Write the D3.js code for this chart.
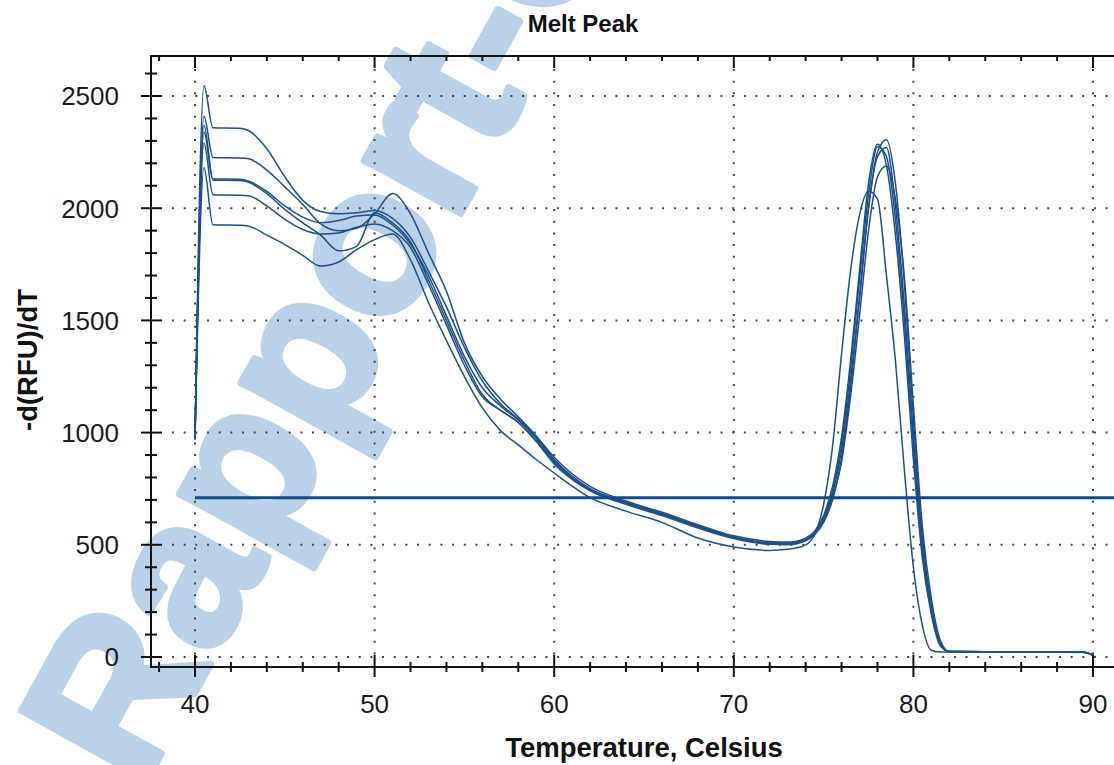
<!DOCTYPE html>
<html>
<head>
<meta charset="utf-8">
<script src="https://cdn.jsdelivr.net/npm/d3@7"></script>
<style>
  body { margin: 0; background: #fff; }
  svg { display: block; }
  text { font-family: 'Liberation Sans', Arial, sans-serif; }
</style>
</head>
<body>
<div id="chart"></div>
<script>
// temperature grid (Celsius) shared by every well
const temps = [40, 40.5, 41, 42.5, 43, 44, 45, 46, 47, 48, 49, 50, 51, 52, 53, 54, 55, 56, 57, 58, 59, 60,
  62, 64, 66, 68, 70, 72, 73, 74, 74.5, 75, 75.5, 76, 76.5, 77, 77.5, 78, 78.5, 79, 79.5, 80, 80.5, 81, 81.5, 82,
  84, 86, 88, 89.5, 90]

// -d(RFU)/dT per well
const well1 = [970, 2546, 2358, 2356, 2345, 2265, 2140, 2035, 1985, 1975, 1980, 1990, 1955, 1870, 1720, 1560, 1380, 1230, 1130, 1060, 980, 880,
  750, 690, 640, 585, 535, 510, 508, 525, 555, 620, 730, 920, 1230, 1600, 2000, 2250, 2305, 2110, 1660, 1060, 530, 230, 60, 24,
  23, 22, 22, 21, 8]
const well2 = [970, 2410, 2226, 2224, 2220, 2170, 2095, 2017, 1930, 1900, 1910, 1975, 2065, 1975, 1800, 1630, 1400, 1250, 1150, 1070, 985, 890,
  760, 695, 645, 590, 540, 515, 512, 530, 560, 630, 760, 980, 1320, 1720, 2110, 2285, 2190, 1880, 1430, 880, 440, 190, 50, 24,
  23, 22, 22, 21, 8]
const well3 = [970, 2340, 2125, 2123, 2115, 2065, 1995, 1935, 1880, 1810, 1830, 1980, 1935, 1850, 1680, 1500, 1320, 1170, 1100, 1045, 965, 868,
  745, 685, 635, 580, 530, 505, 502, 520, 548, 610, 710, 870, 1160, 1520, 1900, 2140, 2188, 2040, 1690, 1120, 580, 260, 75, 24,
  23, 22, 22, 21, 8]
const well4 = [970, 2290, 2060, 2058, 2055, 2010, 1950, 1905, 1885, 1890, 1915, 1930, 1900, 1825, 1660, 1480, 1300, 1160, 1100, 1045, 960, 860,
  740, 680, 630, 575, 528, 502, 500, 518, 545, 600, 700, 890, 1200, 1600, 2000, 2230, 2270, 2010, 1560, 990, 490, 215, 58, 24,
  23, 22, 22, 21, 8]
const well5 = [970, 2180, 1926, 1924, 1920, 1880, 1838, 1790, 1742, 1760, 1815, 1860, 1885, 1770, 1580, 1410, 1250, 1110, 1010, 945, 880, 820,
  710, 650, 600, 530, 490, 475, 480, 500, 545, 680, 940, 1350, 1720, 1970, 2075, 2040, 1700, 1320, 830, 400, 140, 30, 22, 22,
  22, 21, 21, 20, 8]
const well6 = [970, 2370, 2131, 2129, 2120, 2075, 2010, 1960, 1935, 1945, 1965, 1970, 1925, 1840, 1700, 1520, 1340, 1200, 1120, 1055, 975, 875,
  748, 688, 638, 582, 532, 507, 505, 522, 552, 620, 740, 950, 1280, 1680, 2060, 2275, 2230, 1950, 1500, 940, 470, 200, 55, 24,
  23, 22, 22, 21, 8]
const wells = [well1, well2, well3, well4, well5, well6]

const threshold = 710
const xTicks = [40, 50, 60, 70, 80, 90]
const yTicks = [0, 500, 1000, 1500, 2000, 2500]

const width = 1114
const height = 765
const frame = { left: 151, top: 56, bottom: 667, right: 1114 }

const svg = d3
  .select('#chart')
  .append('svg')
  .attr('width', width)
  .attr('height', height)

const xScale = d3.scaleLinear().domain([40, 90]).range([195, 1093])
const yScale = d3.scaleLinear().domain([0, 2500]).range([657, 96])

// watermark underneath everything (runs off the page like the original)
svg
  .append('text')
  .attr('transform', 'translate(140,792) rotate(-61)')
  .attr('font-size', 208)
  .attr('font-weight', 'bold')
  .attr('fill', '#bad1ea')
  .attr('stroke', '#bad1ea')
  .attr('stroke-width', 7)
  .attr('stroke-linejoin', 'round')
  .text('Rapport-Gratuit')

// dotted grid
svg
  .selectAll('.vgrid')
  .data(xTicks)
  .enter()
  .append('line')
  .attr('class', 'vgrid')
  .attr('x1', d => xScale(d))
  .attr('x2', d => xScale(d))
  .attr('y1', 69)
  .attr('y2', yScale(0))
  .attr('stroke', '#444')
  .attr('stroke-width', 2)
  .attr('stroke-dasharray', '2 9.67')

svg
  .selectAll('.hgrid')
  .data(yTicks)
  .enter()
  .append('line')
  .attr('class', 'hgrid')
  .attr('x1', 172)
  .attr('x2', frame.right)
  .attr('y1', d => yScale(d))
  .attr('y2', d => yScale(d))
  .attr('stroke', '#444')
  .attr('stroke-width', 2)
  .attr('stroke-dasharray', '2 9.67')

// melt curves
const line = d3
  .line()
  .x((d, i) => xScale(temps[i]))
  .y(d => yScale(d))
  .curve(d3.curveMonotoneX)

svg
  .selectAll('.well')
  .data(wells)
  .enter()
  .append('path')
  .attr('class', 'well')
  .attr('d', line)
  .attr('fill', 'none')
  .attr('stroke', '#1c4f8c')
  .attr('stroke-width', 1.5)

// threshold line
svg
  .append('line')
  .attr('x1', xScale(40))
  .attr('x2', frame.right)
  .attr('y1', yScale(threshold))
  .attr('y2', yScale(threshold))
  .attr('stroke', '#0f4a8a')
  .attr('stroke-width', 3)

// frame
svg
  .append('path')
  .attr('d', `M${frame.right},${frame.top}H${frame.left}V${frame.bottom}H${frame.right}`)
  .attr('fill', 'none')
  .attr('stroke', '#111')
  .attr('stroke-width', 2)

// x ticks (bottom and top)
const xMinor = d3.range(38, 92, 2).filter(d => d % 10 !== 0)
svg
  .selectAll('.xmajor')
  .data(xTicks)
  .enter()
  .append('line')
  .attr('x1', d => xScale(d))
  .attr('x2', d => xScale(d))
  .attr('y1', frame.bottom - 12)
  .attr('y2', frame.bottom + 10)
  .attr('stroke', '#111')
  .attr('stroke-width', 2)
svg
  .selectAll('.xminor')
  .data(xMinor)
  .enter()
  .append('line')
  .attr('x1', d => xScale(d))
  .attr('x2', d => xScale(d))
  .attr('y1', frame.bottom - 5)
  .attr('y2', frame.bottom + 5)
  .attr('stroke', '#111')
  .attr('stroke-width', 2)
svg
  .selectAll('.xtopmajor')
  .data(xTicks)
  .enter()
  .append('line')
  .attr('x1', d => xScale(d))
  .attr('x2', d => xScale(d))
  .attr('y1', frame.top)
  .attr('y2', frame.top + 12)
  .attr('stroke', '#111')
  .attr('stroke-width', 2)
svg
  .selectAll('.xtopminor')
  .data(xMinor)
  .enter()
  .append('line')
  .attr('x1', d => xScale(d))
  .attr('x2', d => xScale(d))
  .attr('y1', frame.top)
  .attr('y2', frame.top + 5)
  .attr('stroke', '#111')
  .attr('stroke-width', 2)

// y ticks
const yMinor = d3.range(0, 2700, 100).filter(d => d % 500 !== 0)
svg
  .selectAll('.ymajor')
  .data(yTicks)
  .enter()
  .append('line')
  .attr('x1', frame.left - 10)
  .attr('x2', frame.left + 11)
  .attr('y1', d => yScale(d))
  .attr('y2', d => yScale(d))
  .attr('stroke', '#111')
  .attr('stroke-width', 2)
svg
  .selectAll('.yminor')
  .data(yMinor)
  .enter()
  .append('line')
  .attr('x1', frame.left - 6)
  .attr('x2', frame.left + 6)
  .attr('y1', d => yScale(d))
  .attr('y2', d => yScale(d))
  .attr('stroke', '#111')
  .attr('stroke-width', 2)

// tick labels
svg
  .selectAll('.xlabel')
  .data(xTicks)
  .enter()
  .append('text')
  .attr('x', d => xScale(d))
  .attr('y', 713)
  .attr('text-anchor', 'middle')
  .attr('font-size', 26)
  .attr('fill', '#1a1a1a')
  .text(d => d)

svg
  .selectAll('.ylabel')
  .data(yTicks)
  .enter()
  .append('text')
  .attr('x', 119)
  .attr('y', d => yScale(d))
  .attr('dy', '0.36em')
  .attr('text-anchor', 'end')
  .attr('font-size', 26)
  .attr('fill', '#1a1a1a')
  .text(d => d)

// titles
svg
  .append('text')
  .attr('x', 583)
  .attr('y', 32)
  .attr('text-anchor', 'middle')
  .attr('font-size', 24)
  .attr('font-weight', 'bold')
  .attr('fill', '#111')
  .text('Melt Peak')

svg
  .append('text')
  .attr('x', 644)
  .attr('y', 757)
  .attr('text-anchor', 'middle')
  .attr('font-size', 27.5)
  .attr('font-weight', 'bold')
  .attr('fill', '#111')
  .text('Temperature, Celsius')

svg
  .append('text')
  .attr('transform', 'translate(37,360) rotate(-90)')
  .attr('text-anchor', 'middle')
  .attr('font-size', 27.5)
  .attr('font-weight', 'bold')
  .attr('fill', '#111')
  .text('-d(RFU)/dT')
</script>
</body>
</html>
